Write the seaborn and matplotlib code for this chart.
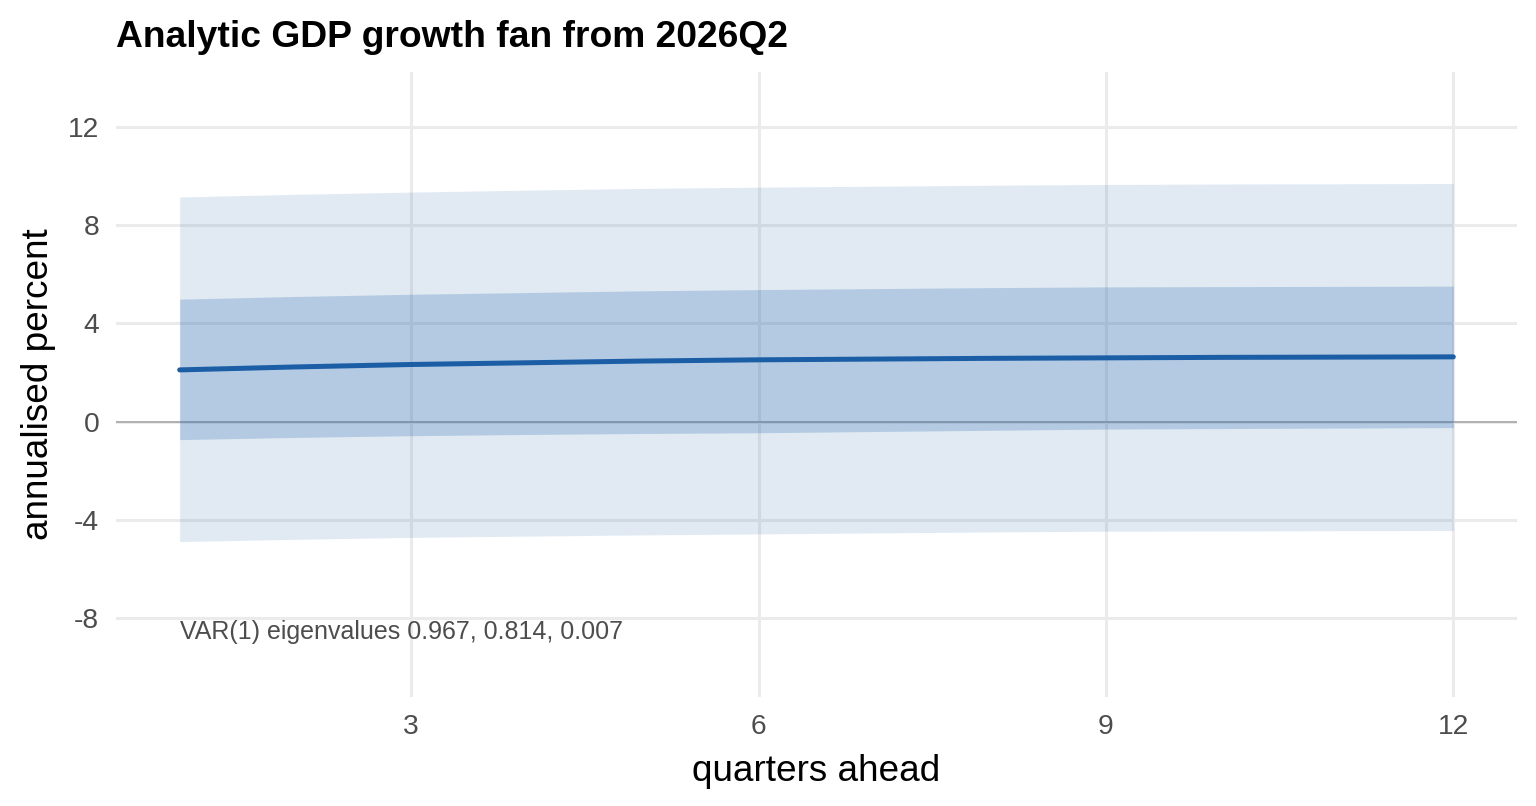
import numpy as np
import pandas as pd
import matplotlib
matplotlib.use("Agg")
import matplotlib.pyplot as plt
import seaborn as sns

# ---- data ----
quarters = [1, 2, 3, 4, 5, 6, 7, 8, 9, 10, 11, 12]
median = [2.11, 2.23, 2.33, 2.40, 2.47, 2.52, 2.55, 2.58, 2.60, 2.62, 2.63, 2.64]
inner_upper = [4.99, 5.10, 5.19, 5.26, 5.33, 5.38, 5.42, 5.46, 5.49, 5.50, 5.51, 5.52]
inner_lower = [-0.73, -0.64, -0.57, -0.52, -0.48, -0.45, -0.40, -0.35, -0.30, -0.28, -0.26, -0.24]
outer_upper = [9.15, 9.26, 9.35, 9.43, 9.50, 9.55, 9.59, 9.63, 9.66, 9.68, 9.69, 9.70]
outer_lower = [-4.88, -4.79, -4.71, -4.66, -4.61, -4.57, -4.53, -4.49, -4.46, -4.45, -4.44, -4.43]
x_ticks = [3, 6, 9, 12]
y_ticks = [-8, -4, 0, 4, 8, 12]
title = "Analytic GDP growth fan from 2026Q2"
annotation = "VAR(1) eigenvalues 0.967, 0.814, 0.007"
annotation_y = -8.58

df = pd.DataFrame({"quarter": quarters, "median": median})

sns.set_theme(style="white")
plt.rcParams["font.family"] = ["Liberation Sans", "DejaVu Sans"]

fig = plt.figure(figsize=(15.36, 8.06), dpi=100)
ax = fig.add_axes([116 / 1536, 1 - 697 / 806, (1517 - 116) / 1536, (697 - 72) / 806])
ax.set_facecolor("white")

band_color = "#2166ac"
ax.fill_between(quarters, outer_lower, outer_upper, color=band_color, alpha=0.135,
                linewidth=0, zorder=2)
ax.fill_between(quarters, inner_lower, inner_upper, color=band_color, alpha=0.234,
                linewidth=0, zorder=3)
ax.axhline(0, color="#b0b0b0", linewidth=1.4, zorder=1.5)
sns.lineplot(data=df, x="quarter", y="median", ax=ax, color="#1b5ea6",
             linewidth=3.6, zorder=4)

ax.text(1, annotation_y, annotation, ha="left", va="center", fontsize=18,
        color="#4d4d4d", zorder=5)

ax.set_xlim(0.45, 12.55)
ax.set_ylim(-11.21, 14.24)
ax.set_xticks(x_ticks)
ax.set_yticks(y_ticks)
ax.set_xticklabels([str(t) for t in x_ticks])
ax.set_yticklabels([str(t) for t in y_ticks])
ax.grid(True, color="#ebebeb", linewidth=2.2, zorder=0)
ax.set_axisbelow(True)
for s in ax.spines.values():
    s.set_visible(False)
ax.tick_params(axis="both", length=0, labelsize=20.3, labelcolor="#4d4d4d")
ax.tick_params(axis="x", pad=12)
ax.tick_params(axis="y", pad=12)

ax.set_xlabel("quarters ahead", fontsize=26.6, color="black", labelpad=10)
ax.set_ylabel("annualised percent", fontsize=26.6, color="black", labelpad=9)

fig.text(116 / 1536, 1 - 47 / 806, title, ha="left", va="baseline",
         fontsize=26.8, fontweight="bold", color="black")

fig.savefig("out.png", dpi=100)
